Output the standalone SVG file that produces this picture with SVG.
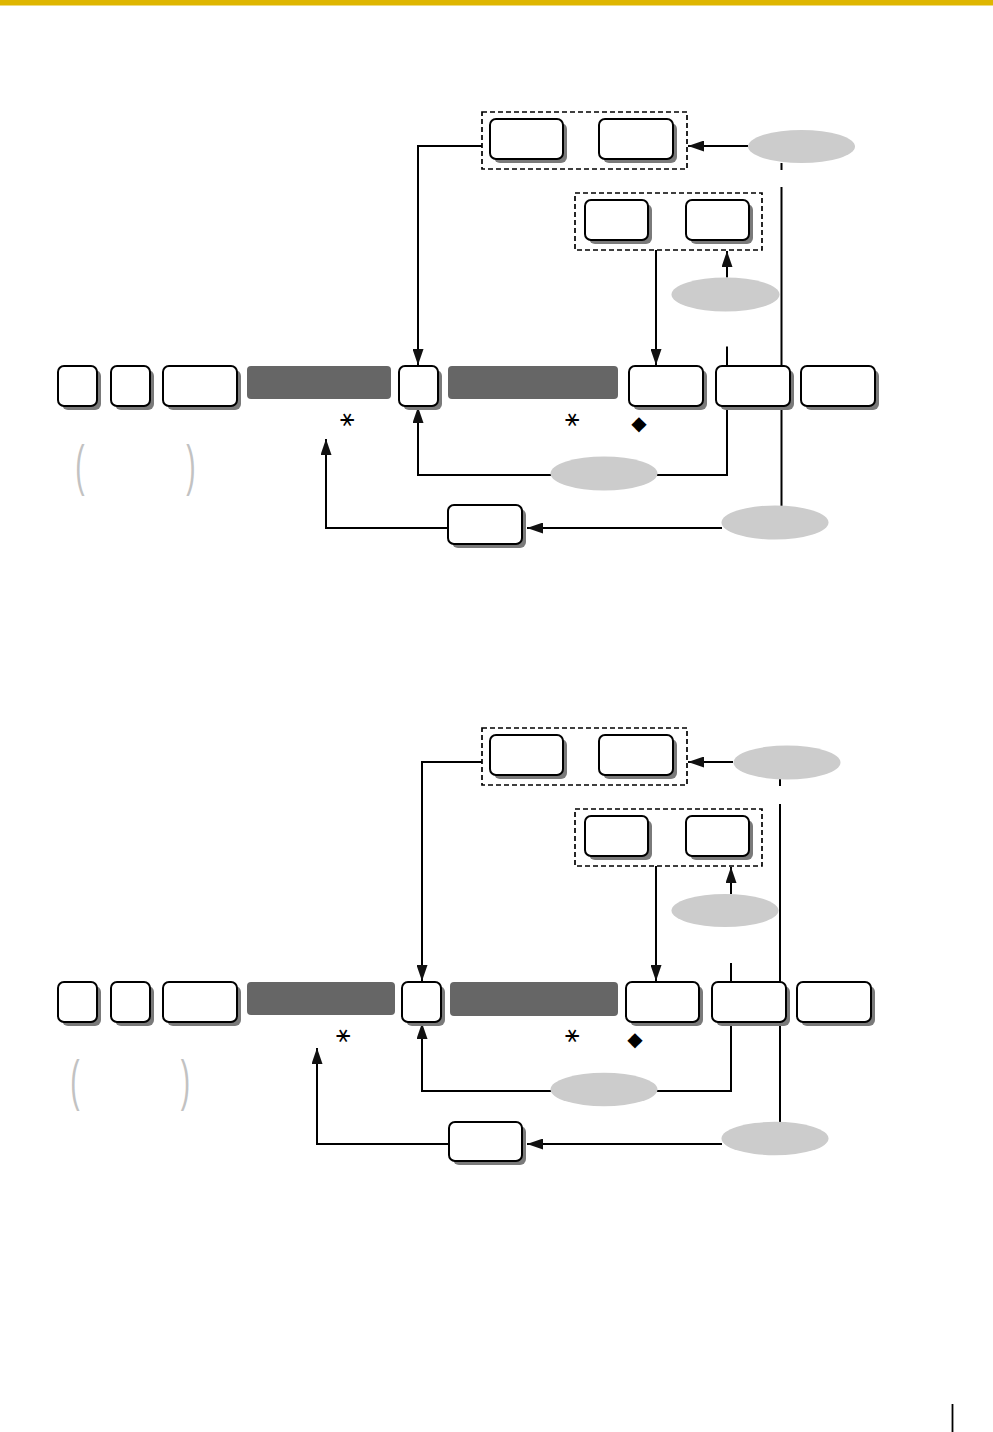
<svg xmlns="http://www.w3.org/2000/svg" width="993" height="1432" viewBox="0 0 993 1432">
<style>
.sh{fill:#7a7a7a}
.bx{fill:#fff;stroke:#000;stroke-width:2}
.bar{fill:#666}
.dash{fill:none;stroke:#000;stroke-width:1.7;stroke-dasharray:5 3}
.ell{fill:#cccccc}
.ln{fill:none;stroke:#000;stroke-width:2}
.ar{fill:none;stroke:#000;stroke-width:2;marker-end:url(#ah)}
.sym{font-family:"DejaVu Sans",sans-serif;font-size:24px;fill:#000}
.dia{font-family:"DejaVu Sans",sans-serif;font-size:20px;fill:#000}
.par{font-family:"Liberation Sans",Arial,sans-serif;font-size:28px;fill:#c2c2c2}
</style>
<defs>
<marker id="ah" viewBox="0 0 16 11" refX="16" refY="5.5" markerWidth="16" markerHeight="11" markerUnits="userSpaceOnUse" orient="auto">
<path d="M0,0 L16,5.5 L0,11 Z" fill="#111"/>
</marker>
</defs>
<rect x="0" y="0" width="993" height="5.5" fill="#dfb600"/>
<line x1="952.5" y1="1404" x2="952.5" y2="1432" stroke="#000" stroke-width="1.8"/>

<!-- ===== TOP DIAGRAM ===== -->
<g id="connectors-top">
<path class="ar" d="M748,146 H688"/>
<path class="ln" d="M781.5,163 V170"/>
<path class="ln" d="M781.5,187 V506"/>
<path class="ar" d="M727,277.5 V251"/>
<path class="ar" d="M656,250 V365"/>
<path class="ar" d="M482,146 H418 V365"/>
<path class="ln" d="M727,346.5 V366"/>
<path class="ar" d="M727,406 V475 H418 V407"/>
<path class="ar" d="M722,528 H527"/>
<path class="ar" d="M449,528 H326 V439"/>
</g>
<g id="t-group1"><rect class="dash" x="482" y="112" width="205" height="57"/></g>
<g id="t-a"><rect class="sh" x="494" y="123" width="73" height="40" rx="6"/><rect class="bx" x="490" y="119" width="73" height="40" rx="6"/></g>
<g id="t-b"><rect class="sh" x="603" y="123" width="74" height="40" rx="6"/><rect class="bx" x="599" y="119" width="74" height="40" rx="6"/></g>
<g id="t-e1"><ellipse class="ell" cx="801.5" cy="146.5" rx="53.5" ry="16.5"/></g>
<g id="t-group2"><rect class="dash" x="575" y="193" width="187" height="57"/></g>
<g id="t-c"><rect class="sh" x="589" y="204" width="63" height="40" rx="6"/><rect class="bx" x="585" y="200" width="63" height="40" rx="6"/></g>
<g id="t-d"><rect class="sh" x="690" y="204" width="63" height="40" rx="6"/><rect class="bx" x="686" y="200" width="63" height="40" rx="6"/></g>
<g id="t-e2"><ellipse class="ell" cx="725.5" cy="294.5" rx="54" ry="17"/></g>
<g id="t-k1"><rect class="sh" x="62" y="370" width="39" height="40" rx="6"/><rect class="bx" x="58" y="366" width="39" height="40" rx="6"/></g>
<g id="t-k2"><rect class="sh" x="115" y="370" width="39" height="40" rx="6"/><rect class="bx" x="111" y="366" width="39" height="40" rx="6"/></g>
<g id="t-k3"><rect class="sh" x="167" y="370" width="74" height="40" rx="6"/><rect class="bx" x="163" y="366" width="74" height="40" rx="6"/></g>
<g id="t-bar1"><rect class="bar" x="247" y="366" width="144" height="33" rx="4"/></g>
<g id="t-k4"><rect class="sh" x="403" y="370" width="39" height="40" rx="6"/><rect class="bx" x="399" y="366" width="39" height="40" rx="6"/></g>
<g id="t-bar2"><rect class="bar" x="448" y="366" width="170" height="33" rx="4"/></g>
<g id="t-k5"><rect class="sh" x="633" y="370" width="74" height="40" rx="6"/><rect class="bx" x="629" y="366" width="74" height="40" rx="6"/></g>
<g id="t-k6"><rect class="sh" x="720" y="370" width="74" height="40" rx="6"/><rect class="bx" x="716" y="366" width="74" height="40" rx="6"/></g>
<g id="t-k7"><rect class="sh" x="805" y="370" width="74" height="40" rx="6"/><rect class="bx" x="801" y="366" width="74" height="40" rx="6"/></g>
<g id="t-e3"><ellipse class="ell" cx="604" cy="473.5" rx="53.5" ry="17"/></g>
<g id="t-e4"><ellipse class="ell" cx="775" cy="522.5" rx="53.5" ry="17"/></g>
<g id="t-k8"><rect class="sh" x="452" y="509" width="74" height="39" rx="6"/><rect class="bx" x="448" y="505" width="74" height="39" rx="6"/></g>
<g id="t-notes">
<text class="sym" x="347" y="418" text-anchor="middle" dominant-baseline="central">⚹</text>
<text class="sym" x="572" y="418" text-anchor="middle" dominant-baseline="central">⚹</text>
<text class="dia" x="639" y="423" text-anchor="middle" dominant-baseline="central">◆</text>
<text class="par" transform="translate(80,483.5) scale(1,1.95)" text-anchor="middle">(</text>
<text class="par" transform="translate(191,483.5) scale(1,1.95)" text-anchor="middle">)</text>
</g>

<!-- ===== BOTTOM DIAGRAM ===== -->
<g id="connectors-bottom">
<path class="ar" d="M733,762 H688"/>
<path class="ln" d="M780,779 V786"/>
<path class="ln" d="M780,804 V1122"/>
<path class="ar" d="M731,894 V867"/>
<path class="ar" d="M656,866 V981"/>
<path class="ar" d="M482,762 H422 V981"/>
<path class="ln" d="M731,963 V982"/>
<path class="ar" d="M731,1022 V1091 H422 V1023"/>
<path class="ar" d="M722,1144 H527"/>
<path class="ar" d="M449,1144 H317 V1048"/>
</g>
<g id="b-group1"><rect class="dash" x="482" y="728" width="205" height="57"/></g>
<g id="b-a"><rect class="sh" x="494" y="739" width="73" height="40" rx="6"/><rect class="bx" x="490" y="735" width="73" height="40" rx="6"/></g>
<g id="b-b"><rect class="sh" x="603" y="739" width="74" height="40" rx="6"/><rect class="bx" x="599" y="735" width="74" height="40" rx="6"/></g>
<g id="b-e1"><ellipse class="ell" cx="787" cy="762.5" rx="53.5" ry="17"/></g>
<g id="b-group2"><rect class="dash" x="575" y="809" width="187" height="57"/></g>
<g id="b-c"><rect class="sh" x="589" y="820" width="63" height="40" rx="6"/><rect class="bx" x="585" y="816" width="63" height="40" rx="6"/></g>
<g id="b-d"><rect class="sh" x="690" y="820" width="63" height="40" rx="6"/><rect class="bx" x="686" y="816" width="63" height="40" rx="6"/></g>
<g id="b-e2"><ellipse class="ell" cx="725" cy="910.5" rx="53.5" ry="16.5"/></g>
<g id="b-k1"><rect class="sh" x="62" y="986" width="39" height="40" rx="6"/><rect class="bx" x="58" y="982" width="39" height="40" rx="6"/></g>
<g id="b-k2"><rect class="sh" x="115" y="986" width="39" height="40" rx="6"/><rect class="bx" x="111" y="982" width="39" height="40" rx="6"/></g>
<g id="b-k3"><rect class="sh" x="167" y="986" width="74" height="40" rx="6"/><rect class="bx" x="163" y="982" width="74" height="40" rx="6"/></g>
<g id="b-bar1"><rect class="bar" x="247" y="982" width="148" height="33" rx="4"/></g>
<g id="b-k4"><rect class="sh" x="406" y="986" width="39" height="40" rx="6"/><rect class="bx" x="402" y="982" width="39" height="40" rx="6"/></g>
<g id="b-bar2"><rect class="bar" x="450" y="982" width="168" height="34" rx="4"/></g>
<g id="b-k5"><rect class="sh" x="630" y="986" width="73" height="40" rx="6"/><rect class="bx" x="626" y="982" width="73" height="40" rx="6"/></g>
<g id="b-k6"><rect class="sh" x="716" y="986" width="74" height="40" rx="6"/><rect class="bx" x="712" y="982" width="74" height="40" rx="6"/></g>
<g id="b-k7"><rect class="sh" x="801" y="986" width="74" height="40" rx="6"/><rect class="bx" x="797" y="982" width="74" height="40" rx="6"/></g>
<g id="b-e3"><ellipse class="ell" cx="604" cy="1089.5" rx="53.5" ry="16.7"/></g>
<g id="b-e4"><ellipse class="ell" cx="775" cy="1138.5" rx="53.5" ry="16.7"/></g>
<g id="b-k8"><rect class="sh" x="453" y="1126" width="73" height="39" rx="6"/><rect class="bx" x="449" y="1122" width="73" height="39" rx="6"/></g>
<g id="b-notes">
<text class="sym" x="343" y="1034" text-anchor="middle" dominant-baseline="central">⚹</text>
<text class="sym" x="572" y="1034" text-anchor="middle" dominant-baseline="central">⚹</text>
<text class="dia" x="635" y="1039" text-anchor="middle" dominant-baseline="central">◆</text>
<text class="par" transform="translate(75,1098.5) scale(1,1.95)" text-anchor="middle">(</text>
<text class="par" transform="translate(185.5,1098.5) scale(1,1.95)" text-anchor="middle">)</text>
</g>
</svg>
